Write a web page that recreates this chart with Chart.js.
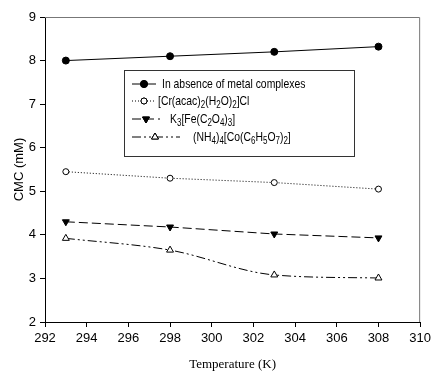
<!DOCTYPE html>
<html>
<head>
<meta charset="utf-8">
<script src="https://cdn.jsdelivr.net/npm/chart.js@4/dist/chart.umd.min.js"></script>
<style>
  html, body { margin: 0; padding: 0; background: #fff; }
  #wrap { width: 435px; height: 371px; }
</style>
</head>
<body>
<div id="wrap"><canvas id="cmcChart" width="435" height="371"></canvas></div>
<script>
// Data
const temperatures = [293, 298, 303, 308];
const cmcNoComplex = [8.0, 8.1, 8.2, 8.32];
const cmcCr = [5.45, 5.3, 5.2, 5.05];
const cmcFe = [4.3, 4.18, 4.02, 3.93];
const cmcCo = [3.92, 3.65, 3.08, 3.01];

const xTicks = [292, 294, 296, 298, 300, 302, 304, 306, 308, 310];
const yTicks = [2, 3, 4, 5, 6, 7, 8, 9];

// legend labels, "_" marks a subscript character
const legendLabels = [
    'In absence of metal complexes',
    '[Cr(acac)_2(H_2O)_2]Cl',
    'K_3[Fe(C_2O_4)_3]',
    '(NH_4)_4[Co(C_6H_5O_7)_2]',
];

const tickFont = { family: '"Liberation Sans Narrow", "Liberation Sans", Arial', size: 13 };

function toPoints(ys) {
    return temperatures.map((t, i) => ({ x: t, y: ys[i] }));
}

const seriesStyles = [
    { dash: [], point: 'circle', fill: '#000', radius: 3.5, rotation: 0, tension: 0 },
    { dash: [1, 2], point: 'circle', fill: '#fff', radius: 3, rotation: 0, tension: 0 },
    { dash: [9, 4], point: 'triangle', fill: '#000', radius: 4, rotation: 180, tension: 0 },
    { dash: [9, 3, 2, 3, 2, 3], point: 'triangle', fill: '#fff', radius: 4, rotation: 0, tension: 0.35 },
];

const seriesValues = [cmcNoComplex, cmcCr, cmcFe, cmcCo];

// draws the frame and the legend box inside the plot
const framePlugin = {
    id: 'frameAndLegend',
    afterDraw(chart) {
        const ctx = chart.ctx;
        const a = chart.chartArea;
        ctx.save();
        ctx.strokeStyle = '#777';
        ctx.lineWidth = 1;
        ctx.beginPath();
        ctx.moveTo(a.left, a.top + 0.5);
        ctx.lineTo(a.right - 0.5, a.top + 0.5);
        ctx.lineTo(a.right - 0.5, a.bottom);
        ctx.stroke();

        // legend box
        const bx = 124, by = 70, bw = 230, bh = 86;
        ctx.fillStyle = '#fff';
        ctx.fillRect(bx, by, bw, bh);
        ctx.strokeStyle = '#333';
        ctx.strokeRect(bx + 0.5, by + 0.5, bw, bh);

        const rowsY = [84, 101, 119, 137];
        const textX = [162, 158, 170, 193];
        const lineEnd = [156, 156, 160, 180];
        const markX = [144, 144, 146, 155];
        seriesStyles.forEach((s, i) => {
            const y = rowsY[i];
            ctx.strokeStyle = '#000';
            ctx.lineWidth = 1;
            ctx.setLineDash(s.dash);
            ctx.beginPath();
            ctx.moveTo(132, y);
            ctx.lineTo(lineEnd[i], y);
            ctx.stroke();
            ctx.setLineDash([]);
            Chart.helpers.drawPoint(ctx, {
                pointStyle: s.point, radius: s.radius, rotation: s.rotation, borderWidth: 1,
            }, markX[i], y);
            ctx.fillStyle = s.fill;
            ctx.fill();
            ctx.stroke();
            drawSubText(ctx, legendLabels[i], textX[i], y);
        });
        ctx.restore();
    },
};

// narrow text with subscripts, squeezed horizontally like the original
function drawSubText(ctx, text, x, y) {
    const squeeze = 0.8;
    ctx.save();
    ctx.translate(x, y);
    ctx.scale(squeeze, 1);
    ctx.fillStyle = '#000';
    ctx.textBaseline = 'middle';
    ctx.textAlign = 'left';
    let cx = 0;
    for (let i = 0; i < text.length; i++) {
        let ch = text[i];
        if (ch === '_') {
            ch = text[++i];
            ctx.font = '10px "Liberation Sans", Arial';
            ctx.fillText(ch, cx, 4);
        } else {
            ctx.font = '13px "Liberation Sans", Arial';
            ctx.fillText(ch, cx, 0);
        }
        cx += ctx.measureText(ch).width;
    }
    ctx.restore();
}

new Chart(document.getElementById('cmcChart'), {
    type: 'line',
    data: {
        datasets: seriesValues.map((vals, i) => ({
            label: legendLabels[i],
            data: toPoints(vals),
            borderColor: '#000',
            borderWidth: 1,
            borderDash: seriesStyles[i].dash,
            pointStyle: seriesStyles[i].point,
            pointRotation: seriesStyles[i].rotation,
            pointRadius: seriesStyles[i].radius,
            pointBackgroundColor: seriesStyles[i].fill,
            pointBorderColor: '#000',
            pointBorderWidth: 1,
            tension: seriesStyles[i].tension,
            cubicInterpolationMode: i === 3 ? 'monotone' : 'default',
        })),
    },
    options: {
        responsive: false,
        animation: false,
        layout: { padding: { top: 17, right: 8, left: 0, bottom: 0 } },
        plugins: {
            legend: { display: false },
            tooltip: { enabled: false },
        },
        scales: {
            x: {
                type: 'linear',
                min: 292,
                max: 310,
                afterBuildTicks(scale) { scale.ticks = xTicks.map(v => ({ value: v })); },
                afterFit(scale) { scale.height = 49; },
                ticks: { font: tickFont, color: '#000', padding: 4 },
                grid: { drawOnChartArea: false, tickLength: 5, color: '#000' },
                border: { color: '#000', width: 1 },
                title: {
                    display: true,
                    text: 'Temperature (K)',
                    font: { family: '"Liberation Serif", "Times New Roman"', size: 13 },
                    color: '#000',
                    padding: { top: 16, bottom: -1 },
                },
            },
            y: {
                min: 2,
                max: 9,
                afterBuildTicks(scale) { scale.ticks = yTicks.map(v => ({ value: v })); },
                afterFit(scale) { scale.width = 45; },
                ticks: { font: tickFont, color: '#000', padding: 4 },
                grid: { drawOnChartArea: false, tickLength: 5, color: '#000' },
                border: { color: '#000', width: 1 },
                title: {
                    display: true,
                    text: 'CMC (mM)',
                    font: { family: '"Liberation Sans", Arial', size: 13 },
                    color: '#000',
                    padding: { top: 12, bottom: 2 },
                },
            },
        },
    },
    plugins: [framePlugin],
});
</script>
</body>
</html>
